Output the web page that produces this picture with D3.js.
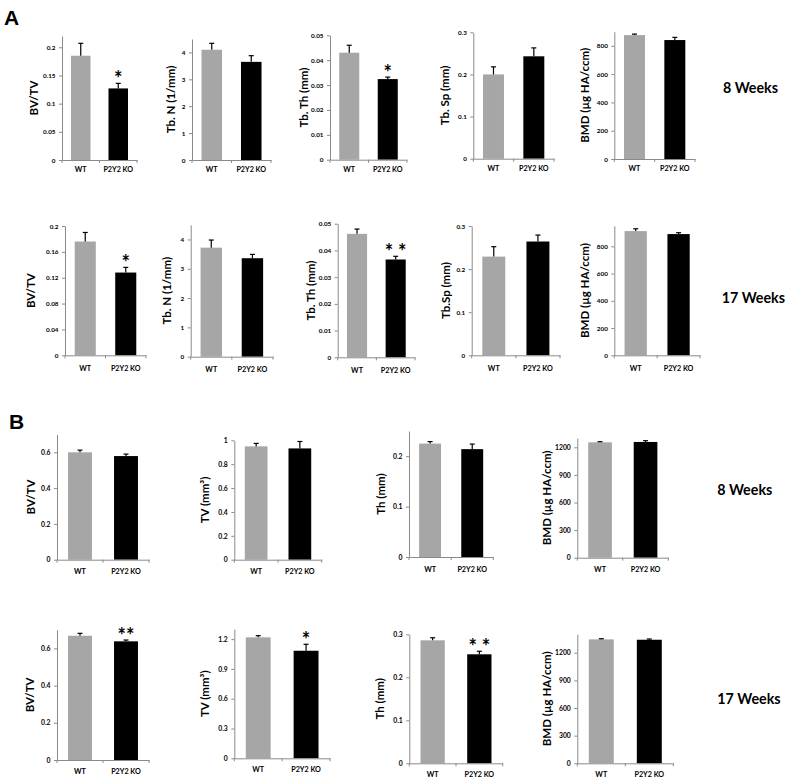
<!DOCTYPE html>
<html><head><meta charset="utf-8">
<script src="https://cdn.jsdelivr.net/npm/d3@7"></script>
<style>body{margin:0;background:#fff}</style>
</head><body>
<svg id="c" width="788" height="779"></svg>
<script>
// ---------- DATA ----------
const groups = ["WT", "P2Y2 KO"];
const rowTitles = ["8 Weeks", "17 Weeks", "8 Weeks", "17 Weeks"];
const panelLetters = ["A", "B"];

// Panel A – 8 weeks
const a8Labels = ["BV/TV", "Tb. N (1/mm)", "Tb. Th (mm)", "Tb. Sp (mm)", "BMD (µg HA/ccm)"];
const a8Means  = [[0.185, 0.127], [4.10, 3.65], [0.043, 0.0324], [0.200, 0.243], [876, 841]];
const a8Errors = [[0.022, 0.009], [0.24, 0.23], [0.003, 0.0008], [0.018, 0.020], [7, 19]];
const a8Sig    = ["*", "", "*", "", ""];
const a8Ticks  = [[0, 0.05, 0.1, 0.15, 0.2], [0, 1, 2, 3, 4], [0, 0.01, 0.02, 0.03, 0.04, 0.05], [0, 0.1, 0.2, 0.3], [0, 200, 400, 600, 800]];
const a8Max    = [0.22, 4.5, 0.05, 0.3, 900];

// Panel A – 17 weeks
const a17Labels = ["BV/TV", "Tb. N (1/mm)", "Tb. Th (mm)", "Tb.Sp (mm)", "BMD (µg HA/ccm)"];
const a17Means  = [[0.176, 0.128], [3.72, 3.36], [0.0462, 0.0366], [0.229, 0.264], [912, 890]];
const a17Errors = [[0.014, 0.008], [0.26, 0.13], [0.0018, 0.0012], [0.023, 0.015], [17, 10]];
const a17Sig    = ["*", "", "* *", "", ""];
const a17Ticks  = [[0, 0.04, 0.08, 0.12, 0.16, 0.2], [0, 1, 2, 3, 4], [0, 0.01, 0.02, 0.03, 0.04, 0.05], [0, 0.1, 0.2, 0.3], [0, 200, 400, 600, 800]];
const a17Max    = [0.2, 4.5, 0.05, 0.3, 950];

// Panel B – 8 weeks
const b8Labels = ["BV/TV", "TV (mm³)", "Th (mm)", "BMD (µg HA/ccm)"];
const b8Means  = [[0.600, 0.579], [0.949, 0.932], [0.225, 0.214], [1254, 1258]];
const b8Errors = [[0.012, 0.011], [0.025, 0.058], [0.004, 0.010], [7, 14]];
const b8Sig    = ["", "", "", ""];
const b8Ticks  = [[0, 0.2, 0.4, 0.6], [0, 0.2, 0.4, 0.6, 0.8, 1], [0, 0.1, 0.2], [0, 300, 600, 900, 1200]];
const b8Max    = [0.7, 1, 0.25, 1300];

// Panel B – 17 weeks
const b17Labels = ["BV/TV", "TV (mm³)", "Th (mm)", "BMD (µg HA/ccm)"];
const b17Means  = [[0.668, 0.638], [1.218, 1.083], [0.286, 0.2535], [1345, 1341]];
const b17Errors = [[0.013, 0.007], [0.017, 0.065], [0.006, 0.007], [7, 8]];
const b17Sig    = ["**", "*", "* *", ""];
const b17Ticks  = [[0, 0.2, 0.4, 0.6], [0, 0.3, 0.6, 0.9, 1.2], [0, 0.1, 0.2, 0.3], [0, 300, 600, 900, 1200]];
const b17Max    = [0.7, 1.3, 0.3, 1400];

// ---------- LAYOUT (positions only) ----------
// [axisX, topY, zeroY, endX, yLabelX]
const layA8  = [[62, 36, 160, 137, 33], [192, 39, 160, 271, 170], [330, 35.3, 159.7, 407, 303], [473.3, 32.3, 158.7, 554, 444.3], [614.3, 31.7, 159, 695, 584]];
const layA17 = [[65, 226, 355.3, 146, 30], [190.7, 224.8, 356.7, 273, 166.7], [337.7, 223.7, 357.3, 415, 310], [471.7, 226, 355.3, 560, 445], [614.3, 225.9, 355.3, 700, 584]];
const layB8  = [[57, 434.4, 559.7, 149, 30], [234.3, 440.3, 559.7, 321.7, 204], [409, 431, 557, 493.3, 380], [577.3, 438.1, 557.7, 668.3, 546.7]];
const layB17 = [[57, 629.8, 760, 149, 29.3], [234.3, 629.2, 758.3, 330, 204], [409.3, 634.3, 763.3, 502.7, 379.3], [577.3, 634.3, 763.3, 673.3, 546.7]];
const rowXLabelOffset = [9.5, 13, 12, 11.5];
const rowTickFont = [6.3, 6.3, 6.8, 6.8];
const rowTitlePos = [[723, 87.3], [721.7, 297.3], [717.3, 489], [717.3, 698.3]];
const letterPos = [[4, 25], [9, 429]];

// ---------- STYLE ----------
const FONT = "Lato, 'Open Sans', sans-serif";
const barColors = ["#a6a6a6", "#000000"];
const axisColor = "#8a8a8a";

const svg = d3.select("#c");

function drawChart(label, means, errs, sig, ticks, yMax, lay, row) {
  const [ax, top, zero, end, lx] = lay;
  const g = svg.append("g");
  const y = d3.scaleLinear().domain([0, yMax]).range([zero, top]);
  const x = d3.scaleBand().domain(groups).range([ax, end]).paddingInner(0.48).paddingOuter(0.24);
  const rows = groups.map((gname, i) => ({ g: gname, m: means[i], e: errs[i], i }));

  // bars
  g.selectAll("rect.bar").data(rows).join("rect").attr("class", "bar")
    .attr("x", d => x(d.g)).attr("width", x.bandwidth())
    .attr("y", d => y(d.m)).attr("height", d => y(0) - y(d.m))
    .attr("fill", d => barColors[d.i]);

  // error bars (upper only)
  const cx = d => x(d.g) + x.bandwidth() / 2;
  g.selectAll("line.eb").data(rows).join("line").attr("class", "eb")
    .attr("x1", cx).attr("x2", cx).attr("y1", d => y(d.m)).attr("y2", d => y(d.m + d.e))
    .attr("stroke", "#000").attr("stroke-width", 1.2);
  g.selectAll("line.cap").data(rows).join("line").attr("class", "cap")
    .attr("x1", d => cx(d) - 2.5).attr("x2", d => cx(d) + 2.5)
    .attr("y1", d => y(d.m + d.e)).attr("y2", d => y(d.m + d.e))
    .attr("stroke", "#000").attr("stroke-width", 1.2);

  // significance marker on KO
  if (sig) {
    const d = rows[1];
    g.append("text").attr("x", cx(d)).attr("y", y(d.m + d.e) + 3)
      .attr("text-anchor", "middle").attr("font-family", FONT).attr("font-weight", "bold")
      .attr("font-size", 20).attr("fill", "#000").text(sig);
  }

  // y axis
  const ya = g.append("g").attr("transform", `translate(${ax},0)`)
    .call(d3.axisLeft(y).tickValues(ticks).tickSize(3).tickSizeOuter(0).tickPadding(3.5).tickFormat(d => String(d)));
  ya.select(".domain").attr("stroke", axisColor);
  ya.selectAll(".tick line").attr("stroke", axisColor);
  ya.selectAll(".tick text").attr("font-family", FONT).attr("font-weight", "bold")
    .attr("font-size", rowTickFont[row]).attr("fill", "#000");

  // x axis
  const xa = g.append("g").attr("transform", `translate(0,${zero})`)
    .call(d3.axisBottom(x).tickSize(0).tickSizeOuter(0).tickPadding(rowXLabelOffset[row]));
  xa.select(".domain").attr("stroke", axisColor);
  xa.selectAll(".tick text").attr("font-family", FONT).attr("font-weight", "bold")
    .attr("font-size", 7.2).attr("fill", "#000").attr("dy", "0.35em").attr("y", rowXLabelOffset[row]);
  g.selectAll("line.xt").data([ax, (ax + end) / 2, end]).join("line").attr("class", "xt")
    .attr("x1", d => d).attr("x2", d => d).attr("y1", zero).attr("y2", zero + 3)
    .attr("stroke", axisColor);

  // y label
  const ly = (top + zero) / 2;
  g.append("text").attr("transform", `translate(${lx},${ly}) rotate(-90)`)
    .attr("text-anchor", "middle").attr("dominant-baseline", "central")
    .attr("font-family", FONT).attr("font-weight", "bold").attr("font-size", 11.5).attr("fill", "#000")
    .text(label);
}

const sets = [
  [a8Labels, a8Means, a8Errors, a8Sig, a8Ticks, a8Max, layA8],
  [a17Labels, a17Means, a17Errors, a17Sig, a17Ticks, a17Max, layA17],
  [b8Labels, b8Means, b8Errors, b8Sig, b8Ticks, b8Max, layB8],
  [b17Labels, b17Means, b17Errors, b17Sig, b17Ticks, b17Max, layB17]
];
sets.forEach(([L, M, E, S, T, X, LY], row) => {
  L.forEach((lab, k) => drawChart(lab, M[k], E[k], S[k], T[k], X[k], LY[k], row));
  svg.append("text").attr("x", rowTitlePos[row][0]).attr("y", rowTitlePos[row][1])
    .attr("dominant-baseline", "central").attr("font-family", FONT).attr("font-weight", "bold")
    .attr("font-size", 14.3).attr("fill", "#000").text(rowTitles[row]);
});
panelLetters.forEach((p, i) => {
  svg.append("text").attr("x", letterPos[i][0]).attr("y", letterPos[i][1])
    .attr("font-family", "'Liberation Sans', Arial, sans-serif").attr("font-weight", "bold")
    .attr("font-size", 21).attr("fill", "#000").text(p);
});
</script>
</body></html>
